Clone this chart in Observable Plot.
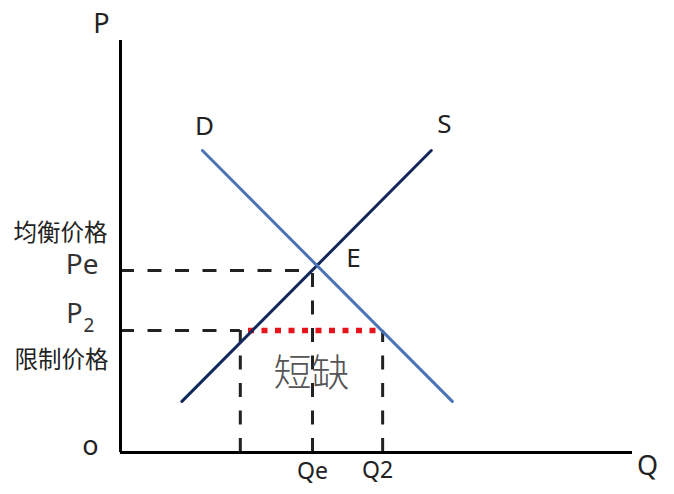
<!DOCTYPE html>
<html>
<head>
<meta charset="utf-8">
<script src="https://cdn.jsdelivr.net/npm/d3@7"></script>
<script src="https://cdn.jsdelivr.net/npm/@observablehq/plot@0.6"></script>
<style>
  html, body { margin: 0; padding: 0; background: #fff; }
  #chart svg { display: block; }
</style>
</head>
<body>
<div id="chart"></div>
<script>
// Demand and supply curves (quantity q, price p)
const demand = [{q: 16, p: 73.3}, {q: 64.8, p: 12.4}];
const supply = [{q: 12, p: 12.4}, {q: 60.7, p: 73.3}];
// Key levels
const Pe = 44.2;   // equilibrium price
const P2 = 29.6;   // ceiling price
const Qe = 37.5;   // equilibrium quantity
const Qs = 23.4;   // quantity supplied at P2
const Q2 = 51.2;   // quantity demanded at P2
const shortageStart = 25;
const shortageEnd = 50;

const sans = "'Noto Sans', 'Open Sans', 'Noto Sans CJK SC', sans-serif";
const cjk = "'Noto Sans CJK SC', sans-serif";
const ink = "#222";
const dash = "14,13.5";

const chart = Plot.plot({
  width: 674,
  height: 494,
  marginLeft: 120,
  marginRight: 42,
  marginTop: 40,
  marginBottom: 42,
  x: {domain: [0, 100], axis: null},
  y: {domain: [0, 100], axis: null},
  marks: [
    // dashed guides
    Plot.ruleY([Pe], {x1: 0, x2: Qe, stroke: ink, strokeWidth: 3, strokeDasharray: dash}),
    Plot.ruleY([P2], {x1: 0, x2: Qs, stroke: ink, strokeWidth: 3, strokeDasharray: dash}),
    Plot.ruleX([Qe], {y1: 0, y2: Pe, stroke: ink, strokeWidth: 3, strokeDasharray: dash}),
    Plot.ruleX([Qs], {y1: 0, y2: P2, stroke: ink, strokeWidth: 3, strokeDasharray: dash}),
    Plot.ruleX([Q2], {y1: 0, y2: P2, stroke: ink, strokeWidth: 3, strokeDasharray: dash}),
    // shortage dotted line
    Plot.ruleY([P2], {x1: shortageStart, x2: shortageEnd, stroke: "#e8141b", strokeWidth: 5.5, strokeDasharray: "6,7.5"}),
    // curves
    Plot.line(supply, {x: "q", y: "p", stroke: "#13285a", strokeWidth: 3}),
    Plot.line(demand, {x: "q", y: "p", stroke: "#4a74b8", strokeWidth: 3}),
    // axes
    Plot.ruleX([0], {y1: 0, y2: 100, stroke: "#000", strokeWidth: 3}),
    Plot.ruleY([0], {x1: 0, x2: 100, stroke: "#000", strokeWidth: 3}),
    // curve labels
    Plot.text([demand[0]], {x: "q", y: "p", text: () => "D", dx: 2, dy: -24, fontSize: 26, fontFamily: sans, fill: ink}),
    Plot.text([supply[1]], {x: "q", y: "p", text: () => "S", dx: 13, dy: -26, fontSize: 26, fontFamily: sans, fill: ink}),
    Plot.text([{q: Qe, p: Pe}], {x: "q", y: "p", text: () => "E", dx: 41, dy: -12, fontSize: 26, fontFamily: sans, fill: ink}),
    // axis titles
    Plot.text([{q: 0, p: 100}], {x: "q", y: "p", text: () => "P", dx: -19, dy: -16, fontSize: 27, fontFamily: sans, fill: ink}),
    Plot.text([{q: 100, p: 0}], {x: "q", y: "p", text: () => "Q", dx: 15, dy: 14, fontSize: 27, fontFamily: sans, fill: ink}),
    Plot.text([{q: 0, p: 0}], {x: "q", y: "p", text: () => "o", dx: -30, dy: -6, fontSize: 27, fontFamily: sans, fill: ink}),
    // price labels
    Plot.text([Pe], {x: 0, y: d => d, text: () => "Pe", textAnchor: "end", dx: -22, dy: -5, fontSize: 28, fontFamily: sans, fill: "#333"}),
    Plot.text([Pe], {x: 0, y: d => d, text: () => "均衡价格", textAnchor: "end", dx: -13, dy: -37, fontSize: 23.5, fontFamily: cjk, fill: ink}),
    Plot.text([P2], {x: 0, y: d => d, text: () => "P", textAnchor: "end", dx: -38, dy: -16, fontSize: 27, fontFamily: sans, fill: "#333"}),
    Plot.text([P2], {x: 0, y: d => d, text: () => "2", textAnchor: "start", dx: -37, dy: -5, fontSize: 19, fontFamily: sans, fill: "#333"}),
    Plot.text([P2], {x: 0, y: d => d, text: () => "限制价格", textAnchor: "end", dx: -12, dy: 30, fontSize: 23.5, fontFamily: cjk, fill: ink}),
    // quantity labels
    Plot.text([Qe], {x: d => d, y: 0, text: () => "Qe", dy: 19, fontSize: 23, fontFamily: sans, fill: ink}),
    Plot.text([Q2], {x: d => d, y: 0, text: () => "Q2", dx: -5, dy: 18, fontSize: 23, fontFamily: sans, fill: ink}),
    // shortage label
    Plot.text([(Qs + Q2) / 2], {x: d => d, y: P2, text: () => "短缺", dy: 43, fontSize: 38, fontWeight: 300, fontFamily: cjk, fill: "#555"})
  ]
});
document.getElementById("chart").appendChild(chart);
</script>
</body>
</html>
